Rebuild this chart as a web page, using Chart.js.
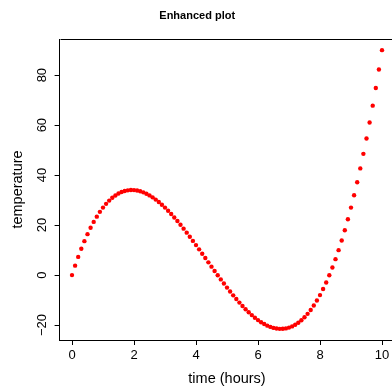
<!DOCTYPE html>
<html><head><meta charset="utf-8">
<script src="https://cdn.jsdelivr.net/npm/chart.js@4"></script>
<style>
html,body{margin:0;padding:0;overflow:hidden;background:#fff;width:392px;height:390px}
#wrap{position:relative;width:400px;height:390px}
</style></head>
<body><div id="wrap"><canvas id="c" width="400" height="390"></canvas></div>
<script>
const timeHours = [
  0, 0.1, 0.2, 0.3, 0.4, 0.5, 0.6, 0.7, 0.8, 0.9,
  1, 1.1, 1.2, 1.3, 1.4, 1.5, 1.6, 1.7, 1.8, 1.9,
  2, 2.1, 2.2, 2.3, 2.4, 2.5, 2.6, 2.7, 2.8, 2.9,
  3, 3.1, 3.2, 3.3, 3.4, 3.5, 3.6, 3.7, 3.8, 3.9,
  4, 4.1, 4.2, 4.3, 4.4, 4.5, 4.6, 4.7, 4.8, 4.9,
  5, 5.1, 5.2, 5.3, 5.4, 5.5, 5.6, 5.7, 5.8, 5.9,
  6, 6.1, 6.2, 6.3, 6.4, 6.5, 6.6, 6.7, 6.8, 6.9,
  7, 7.1, 7.2, 7.3, 7.4, 7.5, 7.6, 7.7, 7.8, 7.9,
  8, 8.1, 8.2, 8.3, 8.4, 8.5, 8.6, 8.7, 8.8, 8.9,
  9, 9.1, 9.2, 9.3, 9.4, 9.5, 9.6, 9.7, 9.8, 9.9,
  10
];
const temperature = [
  0, 3.771, 7.288, 10.557, 13.584, 16.375, 18.936, 21.273, 23.392, 25.299,
  27, 28.501, 29.808, 30.927, 31.864, 32.625, 33.216, 33.643, 33.912, 34.029,
  34, 33.831, 33.528, 33.097, 32.544, 31.875, 31.096, 30.213, 29.232, 28.159,
  27, 25.761, 24.448, 23.067, 21.624, 20.125, 18.576, 16.983, 15.352, 13.689,
  12, 10.291, 8.568, 6.837, 5.104, 3.375, 1.656, -0.047, -1.728, -3.381,
  -5, -6.579, -8.112, -9.593, -11.016, -12.375, -13.664, -14.877, -16.008, -17.051,
  -18, -18.849, -19.592, -20.223, -20.736, -21.125, -21.384, -21.507, -21.488, -21.321,
  -21, -20.519, -19.872, -19.053, -18.056, -16.875, -15.504, -13.937, -12.168, -10.191,
  -8, -5.589, -2.952, -0.083, 3.024, 6.375, 9.976, 13.833, 17.952, 22.339,
  27, 31.941, 37.168, 42.687, 48.504, 54.625, 61.056, 67.803, 74.872, 82.269,
  90
];
const xTickValues = [0, 2, 4, 6, 8, 10];
const yTickValues = [-20, 0, 20, 40, 60, 80];

const FONT = "'Liberation Sans', Arial, Helvetica, sans-serif";
Chart.defaults.font.family = FONT;
Chart.defaults.color = '#000';

const boxPlugin = {
  id: 'box',
  afterDraw(chart) {
    const {ctx, chartArea: a} = chart;
    ctx.save();
    ctx.strokeStyle = '#000';
    ctx.lineWidth = 1;
    ctx.beginPath();
    ctx.moveTo(Math.round(a.left) + 0.5, Math.round(a.top) + 0.5);
    ctx.lineTo(Math.round(a.right) + 0.5, Math.round(a.top) + 0.5);
    ctx.lineTo(Math.round(a.right) + 0.5, Math.round(a.bottom) + 0.5);
    ctx.stroke();
    ctx.restore();
  }
};

new Chart(document.getElementById('c'), {
  type: 'scatter',
  data: {
    datasets: [{
      data: timeHours.map((t, i) => ({x: t, y: temperature[i]})),
      backgroundColor: '#ff0000',
      borderWidth: 0,
      pointRadius: 2.2,
      pointHoverRadius: 2.2,
      showLine: false
    }]
  },
  options: {
    responsive: false,
    animation: false,
    devicePixelRatio: 1,
    layout: {padding: {left: 0, right: 5.6, top: 0, bottom: 0}},
    plugins: {
      legend: {display: false},
      tooltip: {enabled: false},
      title: {
        display: true,
        text: 'Enhanced plot',
        color: '#000',
        font: {family: FONT, size: 11, weight: 'bold', lineHeight: 1.2},
        padding: {top: 9, bottom: 16.8}
      }
    },
    scales: {
      x: {
        type: 'linear',
        min: -0.4,
        max: 10.4,
        afterBuildTicks: s => { s.ticks = xTickValues.map(v => ({value: v})); },
        afterFit: s => { s.height = 50; },
        grid: {display: true, drawOnChartArea: false, drawTicks: true, tickLength: 5, color: '#000', lineWidth: 1},
        border: {display: true, color: '#000', width: 1},
        ticks: {font: {size: 13}, color: '#000', padding: 3, maxRotation: 0, minRotation: 0, autoSkip: false},
        title: {display: true, text: 'time (hours)', color: '#000', font: {size: 14.5, lineHeight: 1.2}, padding: {top: 0, bottom: 2}}
      },
      y: {
        type: 'linear',
        min: -25.97,
        max: 94.46,
        afterBuildTicks: s => { s.ticks = yTickValues.map(v => ({value: v})); },
        afterFit: s => { s.width = 59.6; },
        grid: {display: true, drawOnChartArea: false, drawTicks: true, tickLength: 5, color: '#000', lineWidth: 1},
        border: {display: true, color: '#000', width: 1},
        ticks: {
          font: {size: 13}, color: '#000', padding: 1, minRotation: 90, maxRotation: 90,
          crossAlign: 'center', autoSkip: false,
          callback: v => String(v).replace('-', '\u2212')
        },
        title: {display: true, text: 'temperature', color: '#000', font: {size: 14.5, lineHeight: 1.2}, padding: {top: 9.3, bottom: 0}}
      }
    }
  },
  plugins: [boxPlugin]
});
</script>
</body></html>
